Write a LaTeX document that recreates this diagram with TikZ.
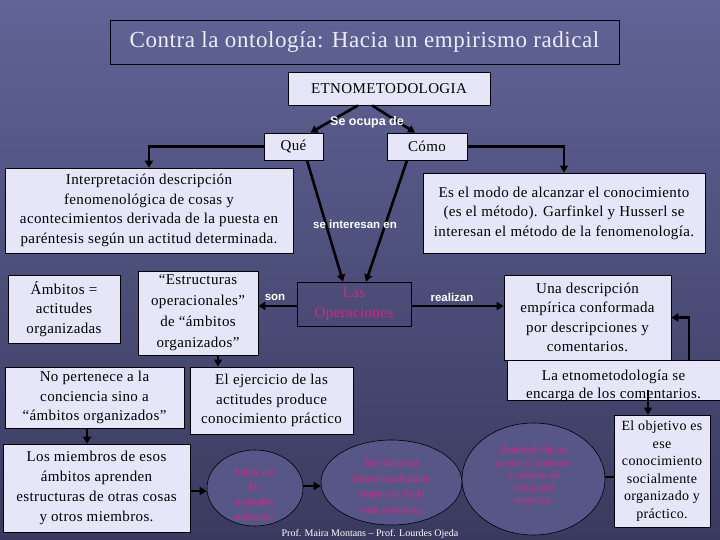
\documentclass[tikz,border=0pt]{standalone}
\usepackage{fontspec}
\setmainfont{Liberation Serif}
\newfontfamily\boxfont[LetterSpace=2.5]{Liberation Serif}
\newfontfamily\lblfont{Liberation Sans}
\usetikzlibrary{arrows.meta,shapes.geometric,calc}
\definecolor{bgtop}{RGB}{96,100,150}
\definecolor{bgbot}{RGB}{58,58,96}
\definecolor{boxfill}{RGB}{230,230,248}
\definecolor{ellfill}{RGB}{86,87,135}
\definecolor{pinktext}{RGB}{220,35,130}
\definecolor{titletext}{RGB}{236,236,250}
\tikzset{
  box/.style={draw=black, line width=0.8pt, fill=boxfill, align=center, inner sep=0pt,
    font=\boxfont\fontsize{15}{19.5}\selectfont},
  darkbox/.style={draw=black, line width=0.8pt, align=center, inner sep=0pt,
    font=\boxfont\fontsize{15}{20}\selectfont, text=pinktext},
  ell/.style={ellipse, draw=black, line width=0.6pt, fill=ellfill, inner sep=0pt},
  elltext/.style={align=center, inner sep=0pt, text=pinktext},
  lbl/.style={text=white, inner sep=0pt, font=\lblfont\bfseries\fontsize{11.5}{13}\selectfont},
  conn/.style={line width=2.6pt, -{Triangle[length=7pt,width=8pt]}},
  plainconn/.style={line width=2.6pt}
}
\begin{document}
\begin{tikzpicture}[x=1pt,y=-1pt]
\useasboundingbox (0,0) rectangle (720,540);
\shade[top color=bgtop, bottom color=bgbot] (0,0) rectangle (720,540);

% title
\node[draw=black, line width=0.8pt, minimum width=509pt, minimum height=44pt, inner sep=0pt,
  text=titletext, font=\boxfont\fontsize{23}{26}\selectfont] (title) at (364.5,42) {Contra la ontología: Hacia un empirismo radical};

\node[box, minimum width=202pt, minimum height=33pt] (etno) at (389,88.5) {ETNOMETODOLOGIA};
\node[box, minimum width=59pt, minimum height=27pt] (que) at (293.5,146.5) {Qué};
\node[box, minimum width=80pt, minimum height=27pt] (como) at (427,146.5) {Cómo};

\node[box, minimum width=288pt, minimum height=85pt] (interp) at (149,210.5)
  {Interpretación descripción\\fenomenológica de cosas y\\acontecimientos derivada de la puesta en\\paréntesis según un actitud determinada.};
\node[box, minimum width=282pt, minimum height=80pt] (modo) at (564,213)
  {Es el modo de alcanzar el conocimiento\\(es el método). Garfinkel y Husserl se\\interesan el método de la fenomenología.};

\node[box, minimum width=112pt, minimum height=68pt] (ambitos) at (64,309)
  {Ámbitos =\\actitudes\\organizadas};
\node[box, minimum width=120pt, minimum height=84pt, font=\boxfont\fontsize{15}{21}\selectfont] (estruct) at (198,313)
  {“Estructuras\\operacionales”\\de “ámbitos\\organizados”};
\node[darkbox, minimum width=114pt, minimum height=44pt] (oper) at (354,304)
  {Las\\Operaciones};
\node[box, minimum width=167pt, minimum height=85pt] (unadesc) at (587.5,317.5)
  {Una descripción\\empírica conformada\\por descripciones y\\comentarios.};
\node[box, minimum width=213pt, minimum height=40pt] (etnocom) at (613.5,380) {};
\node[inner sep=0pt, align=center, font=\boxfont\fontsize{15}{18.5}\selectfont] (etnocomtext) at (613.5,386)
  {La etnometodología se\\encarga de los comentarios.};

\node[box, minimum width=179pt, minimum height=61pt] (nopert) at (94.5,397.5)
  {No pertenece a la\\conciencia sino a\\“ámbitos organizados”};
\node[box, minimum width=163pt, minimum height=67pt] (ejerc) at (271.5,400.5)
  {El ejercicio de las\\actitudes produce\\conocimiento práctico};
\node[box, minimum width=187pt, minimum height=88pt, font=\boxfont\fontsize{15}{20}\selectfont] (miembros) at (96.5,488)
  {Los miembros de esos\\ámbitos aprenden\\estructuras de otras cosas\\y otros miembros.};
\node[box, minimum width=96pt, minimum height=112pt, font=\boxfont\fontsize{14}{17.5}\selectfont] (objetivo) at (662,471)
  {El objetivo es\\ese\\conocimiento\\socialmente\\organizado y\\práctico.};

% ellipses
\node[ell, minimum width=96pt, minimum height=76pt] (ell1) at (255,488) {};
\node[elltext, font=\fontsize{11}{15}\selectfont] (ell1text) at (255,494)
  {Estas son\\las\\actitudes\\naturales};
\node[ell, minimum width=141pt, minimum height=85pt] (ell2) at (391.5,482.5) {};
\node[elltext, font=\fontsize{11}{15.5}\selectfont] (ell2text) at (391.5,486)
  {Son infinitas\\intencionalidades\\empíricas de la\\vida cotidiana.};
\node[ell, minimum width=143pt, minimum height=112pt] (ell3) at (533.5,479) {};
\node[elltext, font=\fontsize{10.5}{12.5}\selectfont] (ell3text) at (533.5,476)
  {Resultado de un\\proceso continuo\\y crónico de\\reducción\\empírica.};

% connectors
\draw[conn] ([xshift=-31pt]etno.south) -- ([xshift=17pt]que.north);
\draw[conn] ([xshift=-17pt]etno.south) -- ([xshift=-12pt]como.north);
\draw[conn] (que.west) -| (interp.north);
\draw[conn] (como.east) -| (modo.north);
\draw[conn] ([xshift=13.5pt]que.south) -- ([xshift=-11pt]oper.north);
\draw[conn] ([xshift=-20pt]como.south) -- ([xshift=12pt]oper.north);
\draw[conn] ([yshift=-2pt]oper.west) -- ([yshift=-2pt]oper.west -| estruct.east);
\draw[conn] ([yshift=-2pt]oper.east) -- ([yshift=-2pt]oper.east -| unadesc.west);
\draw[conn] ([xshift=75.5pt]etnocom.north) |- (unadesc.east);
\draw[conn] ([xshift=-14pt,yshift=25pt]objetivo.north) -- ([xshift=-14pt]objetivo.north);
\draw[conn] ([xshift=20pt]estruct.south) -- ([xshift=20pt]estruct.south |- ejerc.north);
\draw[conn] ([xshift=-7.5pt]nopert.south) -- ([xshift=-7.5pt]nopert.south |- miembros.north);
\draw[conn] ([yshift=-3pt]miembros.east) -- ([yshift=-3pt]ell1.west);
\draw[conn] ([yshift=2pt]ell1.east) -- ([yshift=2pt]ell1.east -| ell2.west);
\draw[plainconn] ([yshift=2pt]ell3.east) -- ([yshift=2pt]ell3.east -| objetivo.west);

% labels (on top of the connectors)
\node[lbl, font=\lblfont\bfseries\fontsize{12.5}{14}\selectfont] (seocupa) at (367,122) {Se ocupa de};
\node[lbl] (seint) at (355,224) {se interesan en};
\node[lbl] (son) at (275,297) {son};
\node[lbl] (realizan) at (452,297) {realizan};
\node[text=white, inner sep=0pt, font=\fontsize{10}{12}\selectfont] (footer) at (370,534)
  {Prof. Maira Montans – Prof. Lourdes Ojeda};
\end{tikzpicture}
\end{document}
